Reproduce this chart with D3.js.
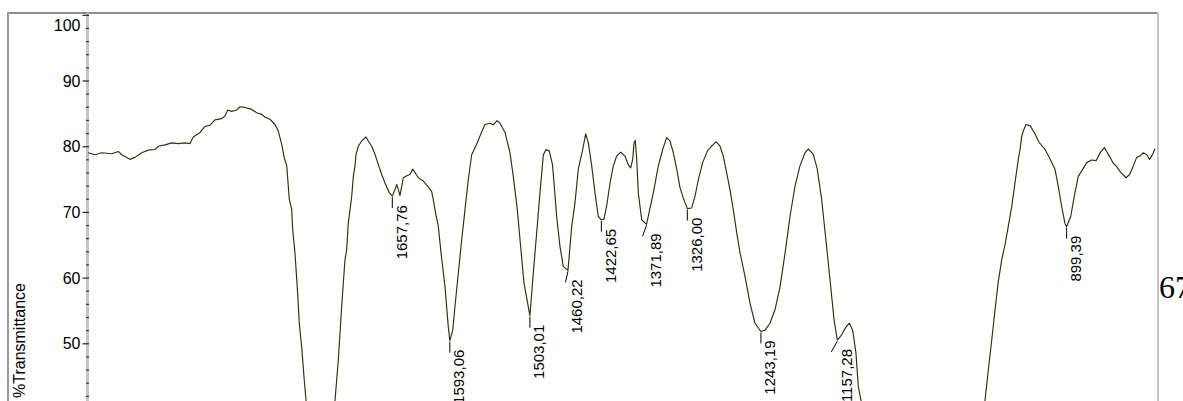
<!DOCTYPE html>
<html>
<head>
<meta charset="utf-8">
<script src="https://cdn.jsdelivr.net/npm/d3@7"></script>
<style>
  html, body { margin: 0; padding: 0; background: #ffffff; }
  svg { display: block; }
</style>
</head>
<body>
<div id="chart"></div>
<script>
// ---- Data ----
const wavenumbers = [
  2000, 1992.1, 1984.6, 1973.3, 1965.9, 1962.1, 1952.8, 1947.1, 1939.6, 1932.2,
  1924.6, 1920.9, 1913.4, 1905.9, 1898.4, 1890.9, 1885.3, 1881.6, 1874.0, 1868.4,
  1862.8, 1857.2, 1849.6, 1845.9, 1842.9, 1838.4, 1832.8, 1829.1, 1823.4, 1815.9,
  1810.3, 1804.6, 1800.9, 1795.3, 1789.7, 1786.0, 1782.2, 1779.2, 1776.5, 1773.6,
  1770.9, 1769.8, 1767.2, 1764.2, 1762.4, 1759.7, 1757.1, 1754.8,
  1748, 1740, 1732,
  1722.2, 1718.5, 1714.7, 1711.0, 1709.1, 1707.3, 1705.3, 1703.4, 1701.6, 1699.7,
  1698.6, 1696.0, 1692.2, 1687.3, 1684.8, 1680.9, 1677.2, 1673.5, 1669.7, 1666.0,
  1661.1, 1657.76, 1654.7, 1652.8, 1651.0, 1649.1, 1647.2, 1645.4, 1641.6, 1637.9,
  1634.8, 1632.2, 1628.5, 1622.9, 1617.3, 1613.5, 1611.7, 1609.2, 1606.0, 1603.0,
  1598.5, 1594.8, 1593.06, 1589.8, 1587.3, 1583.5, 1579.7, 1576.0, 1572.3, 1568.5,
  1562.9, 1557.2, 1553.5, 1547.9, 1544.2, 1540.0, 1536.6, 1531.0, 1525.4, 1521.7,
  1517.2, 1513.4, 1509.7, 1503.01, 1499.2, 1495.4, 1491.7, 1487.9, 1484.9, 1481.2,
  1477.6, 1475.9, 1472.9, 1469.2, 1465.5, 1460.22, 1456.0, 1452.3, 1448.6, 1443.6,
  1440.3, 1437.3, 1433.5, 1429.8, 1426.1, 1422.65, 1419.7, 1416.7, 1412.9, 1409.2,
  1405.4, 1400.9, 1396.1, 1392.4, 1389.7, 1387.4, 1385.9, 1384.5, 1382.9, 1381.1,
  1377.3, 1371.89, 1369.9, 1364.2, 1358.6, 1353.7, 1349.2, 1345.5, 1341.7, 1337.9,
  1334.2, 1330.5, 1326.00, 1321.1, 1317.3, 1313.6, 1308.7, 1303.5, 1298.6, 1293.7,
  1289.2, 1285.5, 1281.7, 1278.0, 1274.3, 1270.4, 1266.7, 1261.1, 1255.5, 1249.9,
  1243.19, 1238.6, 1233.0, 1227.4, 1221.7, 1216.1, 1210.5, 1204.9, 1199.3, 1193.6,
  1189.9, 1184.3, 1179.8, 1174.9, 1169.2, 1164.7, 1161.0, 1157.28, 1152.4, 1147.5,
  1143.8, 1140.0, 1136.3, 1133.7, 1130.6,
  1120, 1100, 1070, 1040, 1015, 1000,
  991.2, 987.5, 983.6, 979.9, 976.2, 972.4, 968.7, 965.0, 961.1, 957.5,
  953.7, 951.8, 949.9, 948.1, 945.1, 940.3, 935.5, 930.4, 923.7, 918.1,
  912.5, 908.8, 905.0, 901.2, 899.39, 894.8, 890.5, 886.3, 882.5, 876.8,
  871.2, 866.3, 861.3, 857.0, 852.5, 846.9, 843.1, 838.2, 832.6, 828.5,
  824.4, 820.6, 816.9, 813.2, 809.3, 806.0, 802.8, 800.0
];
const transmittance = [
  79.0, 78.7, 79.0, 78.85, 79.2, 78.7, 78.0, 78.3, 79.0, 79.4,
  79.5, 80.0, 80.2, 80.5, 80.4, 80.5, 80.4, 81.4, 82.1, 83.0,
  83.2, 84.0, 84.2, 84.6, 85.5, 85.3, 85.5, 86.0, 85.9, 85.6,
  85.1, 84.85, 84.4, 84.1, 83.3, 82.3, 80.3, 78.2, 77.0, 71.9,
  70.35, 67.3, 63.7, 57.6, 53.05, 49.5, 44.9, 41.3,
  30, 22, 28,
  41.3, 47.45, 55.6, 62.7, 64.2, 68.3, 70.35, 72.4, 75.4, 77.0,
  78.7, 80.0, 80.8, 81.4, 80.8, 80.0, 78.75, 77.2, 75.7, 74.4,
  72.9, 72.4, 73.4, 74.2, 73.4, 72.5, 73.9, 75.2, 75.5, 75.7,
  76.5, 76.0, 75.2, 74.7, 73.8, 73.1, 71.9, 69.9, 67.8, 63.8,
  58.6, 52.5, 50.4, 52.0, 55.6, 60.7, 65.8, 70.35, 74.9, 78.7,
  80.3, 82.2, 83.3, 83.5, 83.25, 83.9, 83.5, 82.1, 79.0, 75.4,
  70.35, 64.7, 59.2, 54.2, 60.7, 66.8, 72.9, 78.7, 79.5, 79.25,
  77.2, 74.4, 69.3, 64.75, 61.7, 61.1, 67.8, 71.4, 76.5, 79.5,
  81.9, 80.5, 77.0, 72.9, 69.3, 68.8, 68.9, 70.9, 74.4, 77.0,
  78.5, 79.1, 78.5, 77.2, 76.7, 78.0, 80.5, 80.9, 78.0, 72.9,
  68.8, 68.1, 69.3, 72.9, 77.0, 79.5, 81.3, 80.8, 79.0, 76.5,
  73.7, 72.1, 70.5, 70.6, 72.4, 74.9, 77.5, 79.25, 80.0, 80.7,
  80.0, 78.5, 75.95, 73.4, 70.35, 66.8, 63.8, 60.2, 56.1, 53.05,
  51.8, 52.0, 53.05, 55.1, 58.6, 63.7, 69.3, 73.9, 77.0, 79.0,
  79.6, 78.75, 76.5, 71.9, 64.55, 58.6, 53.6, 50.5, 51.3, 52.5,
  53.05, 52.0, 48.5, 43.4, 41.3,
  30, 18, 12, 15, 24, 30,
  41.3, 45.9, 50.5, 55.1, 59.4, 62.7, 65.0, 67.8, 70.85, 74.4,
  78.0, 79.5, 81.5, 82.3, 83.3, 83.1, 82.0, 80.6, 79.5, 78.1,
  76.5, 73.9, 70.85, 68.2, 67.75, 69.3, 72.6, 75.4, 76.2, 77.5,
  77.9, 77.8, 79.1, 79.8, 78.75, 77.4, 76.9, 75.95, 75.2, 75.7,
  77.0, 78.3, 78.5, 79.0, 78.7, 78.0, 78.75, 79.6
];

const peakLabels = ["1657,76", "1593,06", "1503,01", "1460,22", "1422,65",
                    "1371,89", "1326,00", "1243,19", "1157,28", "899,39"];
const peakWn = [1657.76, 1593.06, 1503.01, 1460.22, 1422.65,
                1371.89, 1326.00, 1243.19, 1157.28, 899.39];
const peakT = [72.4, 50.4, 54.2, 61.1, 68.8, 68.1, 70.5, 51.8, 50.5, 67.75];

const yMajorTicks = [50, 60, 70, 80, 90, 100];
const yMinorTicks = [42, 44, 46, 48, 52, 54, 56, 58, 62, 64, 66, 68, 72, 74, 76, 78,
                     82, 84, 86, 88, 92, 94, 96, 98];
const yAxisTitle = "%Transmittance";
const pageNumber = "67";

// ---- Layout ----
const W = 1183, H = 401;
const svg = d3.select("#chart").append("svg")
  .attr("width", W).attr("height", H)
  .style("font-family", "'Liberation Sans', Arial, sans-serif");

const x = d3.scaleLinear().domain([2000, 800]).range([88, 1155]);
const y = d3.scaleLinear().domain([100, 50]).range([14.8, 343.3]);

// frame
svg.append("line").attr("x1", 8).attr("x2", 1157).attr("y1", 13).attr("y2", 13)
  .attr("stroke", "#8c8c8c").attr("stroke-width", 2);
svg.append("line").attr("x1", 8).attr("x2", 8).attr("y1", 12).attr("y2", H)
  .attr("stroke", "#9a9a9a").attr("stroke-width", 2);
svg.append("line").attr("x1", 1158).attr("x2", 1158).attr("y1", 12).attr("y2", H)
  .attr("stroke", "#c6c6c6").attr("stroke-width", 2);

// y axis line (light gray band)
svg.append("line").attr("x1", 87.5).attr("x2", 87.5).attr("y1", 13).attr("y2", H)
  .attr("stroke", "#c4c4c4").attr("stroke-width", 3);

// minor ticks
const minorAxis = d3.axisLeft(y).tickValues(yMinorTicks).tickSize(3).tickFormat("");
const gMinor = svg.append("g").attr("transform", "translate(89,0)").call(minorAxis);
gMinor.select(".domain").remove();
gMinor.selectAll(".tick line").attr("stroke", "#333").attr("stroke-width", 1.2);

// major ticks + labels
const majorAxis = d3.axisLeft(y).tickValues(yMajorTicks).tickSize(6.5).tickPadding(2)
  .tickFormat(d3.format("d"));
const gMajor = svg.append("g").attr("transform", "translate(89,0)").call(majorAxis);
gMajor.select(".domain").remove();
gMajor.selectAll(".tick line").attr("stroke", "#222").attr("stroke-width", 1.2);
gMajor.selectAll(".tick text")
  .attr("font-size", 16).attr("fill", "#000")
  .style("font-family", "'Liberation Sans', Arial, sans-serif")
  .attr("dy", d => d === 100 ? "1.0em" : "0.35em");

// y axis title
svg.append("text")
  .attr("transform", "translate(25,283) rotate(-90)")
  .attr("text-anchor", "end")
  .attr("font-size", 16)
  .attr("fill", "#000")
  .text(yAxisTitle);

// spectrum
const pts = wavenumbers.map((w, i) => [w, transmittance[i]]);
const line = d3.line().x(d => x(d[0])).y(d => y(d[1]));
svg.append("path")
  .datum(pts)
  .attr("d", line)
  .attr("fill", "none")
  .attr("stroke", "#2f2f0a")
  .attr("stroke-width", 1.15)
  .attr("stroke-linejoin", "round");

// peak labels
const lean = {"1460,22": -2.5, "1371,89": -4, "1157,28": -6};
const gPeaks = svg.append("g");
peakLabels.forEach((lab, i) => {
  const px = x(peakWn[i]), py = y(peakT[i]);
  const dx = lean[lab] || 0;
  gPeaks.append("line")
    .attr("x1", px).attr("y1", py + 1)
    .attr("x2", px + dx).attr("y2", py + 12)
    .attr("stroke", "#000").attr("stroke-width", 1);
  gPeaks.append("text")
    .attr("transform", `translate(${px + 14.5},${py + 9}) rotate(-90)`)
    .attr("text-anchor", "end")
    .attr("font-size", 15)
    .attr("fill", "#000")
    .text(lab);
});

// page number fragment (cut by the right edge, as in the reference)
svg.append("text")
  .attr("x", 1159).attr("y", 298)
  .attr("font-size", 32)
  .style("font-family", "'Liberation Serif', 'Times New Roman', serif")
  .attr("fill", "#000")
  .text(pageNumber);
</script>
</body>
</html>
